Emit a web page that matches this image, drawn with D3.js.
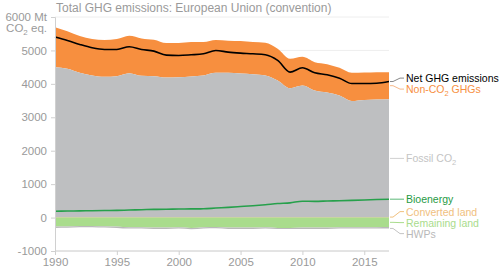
<!DOCTYPE html>
<html>
<head>
<meta charset="utf-8">
<script src="https://cdn.jsdelivr.net/npm/d3@7"></script>
<style>
  body { margin: 0; background: #fff; }
  text { font-family: "Liberation Sans", Arial, Helvetica, sans-serif; }
</style>
</head>
<body>
<svg id="chart" width="500" height="273"></svg>
<script>
const years = d3.range(1990, 2018);
// Mt CO2 eq.
const fossil_co2 = [4500,4450,4330,4250,4210,4230,4320,4240,4230,4190,4200,4220,4250,4330,4330,4310,4290,4250,4100,3870,3950,3800,3740,3650,3490,3520,3530,3540];
const non_co2 = [1190,1120,1100,1090,1100,1110,1120,1120,1090,1030,1020,1030,1000,980,960,970,960,980,950,880,860,850,850,830,840,820,820,810];
const net_ghg = [5400,5300,5180,5080,5030,5030,5110,5030,4980,4860,4850,4870,4900,5000,4950,4920,4900,4870,4700,4350,4480,4330,4270,4170,4010,4010,4020,4070];
const bioenergy = [190,195,200,205,210,215,225,235,245,250,255,260,262,285,305,330,355,385,420,440,490,485,495,505,515,525,540,550];
const converted_land = [15,15,15,15,15,15,15,15,15,15,15,15,15,15,15,15,15,15,15,15,15,15,15,15,15,15,15,15];
const remaining_land = [-270,-265,-250,-250,-260,-270,-290,-290,-300,-300,-290,-310,-290,-280,-300,-300,-300,-290,-310,-310,-300,-300,-300,-290,-290,-290,-290,-285];
const hwps = [-40,-40,-40,-40,-40,-40,-40,-40,-40,-40,-40,-40,-40,-40,-40,-40,-40,-40,-35,-35,-40,-40,-40,-40,-40,-40,-40,-40];
const y_ticks = [-1000, 0, 1000, 2000, 3000, 4000, 5000, 6000];
const x_ticks = [1990, 1995, 2000, 2005, 2010, 2015];

const svg = d3.select("#chart");
const margin = {left: 55, right: 111, top: 17, bottom: 22};
const W = 500, H = 273;

const x = d3.scaleLinear().domain([1990, 2017]).range([margin.left, W - margin.right]);
const y = d3.scaleLinear().domain([-1000, 6000]).range([H - margin.bottom, margin.top]);

const txt_gray = "#9a9a9a";
const axis_gray = "#d0d0d0";

const rows = years.map((yr, i) => ({
    year: yr,
    fossil: fossil_co2[i],
    top: fossil_co2[i] + non_co2[i],
    net: net_ghg[i],
    bio: bioenergy[i],
    conv: converted_land[i],
    rem: remaining_land[i],
    hwp_low: remaining_land[i] + hwps[i]
}));

const curve = d3.curveMonotoneX;

// gridlines
svg.append("g").selectAll("line").data(y_ticks).enter().append("line")
    .attr("x1", x(1990)).attr("x2", x(2017))
    .attr("y1", d => y(d)).attr("y2", d => y(d))
    .attr("stroke", "#eeeeee").attr("stroke-width", 1);

// areas
const area = (lo, hi) => d3.area().x(d => x(d.year)).y0(lo).y1(hi).curve(curve);

svg.append("path").datum(rows).attr("fill", "#f78f3f")
    .attr("d", area(d => y(d.fossil), d => y(d.top)));
svg.append("path").datum(rows).attr("fill", "#bebfc1")
    .attr("d", area(d => y(0), d => y(d.fossil)));
svg.append("path").datum(rows).attr("fill", "#f3c98e")
    .attr("d", area(d => y(0), d => y(d.conv)));
svg.append("path").datum(rows).attr("fill", "#a9dc8c")
    .attr("d", area(d => y(0), d => y(d.rem)));
svg.append("path").datum(rows).attr("fill", "#b9b9b9")
    .attr("d", area(d => y(d.rem), d => y(d.hwp_low)));

// lines
const line = f => d3.line().x(d => x(d.year)).y(f).curve(curve);
svg.append("path").datum(rows).attr("fill", "none").attr("stroke", "#26a04b").attr("stroke-width", 1.6)
    .attr("d", line(d => y(d.bio)));
svg.append("path").datum(rows).attr("fill", "none").attr("stroke", "#000").attr("stroke-width", 1.6)
    .attr("d", line(d => y(d.net)));

// axes
const yAxis = d3.axisLeft(y).tickValues(y_ticks).tickSize(4).tickPadding(4)
    .tickFormat(d => d === 6000 ? "6000 Mt" : d);
const gy = svg.append("g").attr("transform", `translate(${margin.left},0)`).call(yAxis);
const xAxis = d3.axisBottom(x).tickValues(x_ticks).tickSize(4).tickPadding(3).tickFormat(d3.format("d"));
const gx = svg.append("g").attr("transform", `translate(0,${H - margin.bottom})`).call(xAxis);

[gy, gx].forEach(g => {
    g.select(".domain").attr("stroke", axis_gray);
    g.selectAll(".tick line").attr("stroke", axis_gray);
    g.selectAll(".tick text").attr("fill", txt_gray).style("font-size", "11.5px")
        .style("font-family", "'Liberation Sans', Arial, sans-serif");
});
gx.select(".domain").attr("d", `M${x(1990)},0H${x(2017)}`);

const unit = svg.append("text").attr("x", margin.left - 8).attr("y", y(6000) + 15)
    .attr("text-anchor", "end").attr("fill", txt_gray).style("font-size", "11.5px");
unit.append("tspan").text("CO");
unit.append("tspan").text("2").attr("dy", 3).style("font-size", "8px");
unit.append("tspan").text(" eq.").attr("dy", -3);

// title
svg.append("text").attr("x", margin.left + 1).attr("y", 12)
    .attr("fill", txt_gray).style("font-size", "12px")
    .text("Total GHG emissions: European Union (convention)");

// right-hand labels
const last = rows[rows.length - 1];
const labels = [
    {name: "Net GHG emissions", color: "#000", line: "#888", v: last.net},
    {name: "Non-CO|2| GHGs", color: "#f78f3f", line: "#f7b98a", v: (last.fossil + last.top) / 2},
    {name: "Fossil CO|2|", color: "#c4c4c4", line: "#d0d0d0", v: last.fossil / 2},
    {name: "Bioenergy", color: "#1f9a45", line: "#5cb878", v: last.bio},
    {name: "Converted land", color: "#f0c07e", line: "#f0c07e", v: last.conv},
    {name: "Remaining land", color: "#a9dc8c", line: "#a9dc8c", v: last.rem / 2},
    {name: "HWPs", color: "#b9b9b9", line: "#c4c4c4", v: last.hwp_low}
];
labels.forEach(l => { l.anchor = y(l.v); l.ly = l.anchor; });

// simple dodge so labels do not overlap
const gap = 11;
labels.sort((a, b) => a.anchor - b.anchor);
let clusters = labels.map(l => [l]);
let merged = true;
while (merged) {
    merged = false;
    for (let i = 0; i < clusters.length - 1; i++) {
        const a = clusters[i], b = clusters[i + 1];
        if (b[0].ly - a[a.length - 1].ly < gap) {
            const c = a.concat(b);
            const mean = d3.mean(c, l => l.anchor);
            c.forEach((l, k) => l.ly = mean + (k - (c.length - 1) / 2) * gap);
            clusters.splice(i, 2, c);
            merged = true;
            break;
        }
    }
}

const x0 = x(2017) + 1;
labels.forEach(l => {
    svg.append("path").attr("fill", "none").attr("stroke", l.line).attr("stroke-width", 1)
        .attr("d", `M${x0},${l.anchor}L${x0 + 3},${l.anchor}L${x0 + 10},${l.ly}L${x0 + 14},${l.ly}`);
    const t = svg.append("text").attr("x", x0 + 16).attr("y", l.ly + 4)
        .attr("fill", l.color).style("font-size", "10.5px");
    l.name.split("|").forEach((part, k) => {
        if (k % 2 === 1) t.append("tspan").text(part).attr("dy", 2.5).style("font-size", "7.5px");
        else if (k > 0) t.append("tspan").text(part).attr("dy", -2.5);
        else t.append("tspan").text(part);
    });
});
</script>
</body>
</html>
